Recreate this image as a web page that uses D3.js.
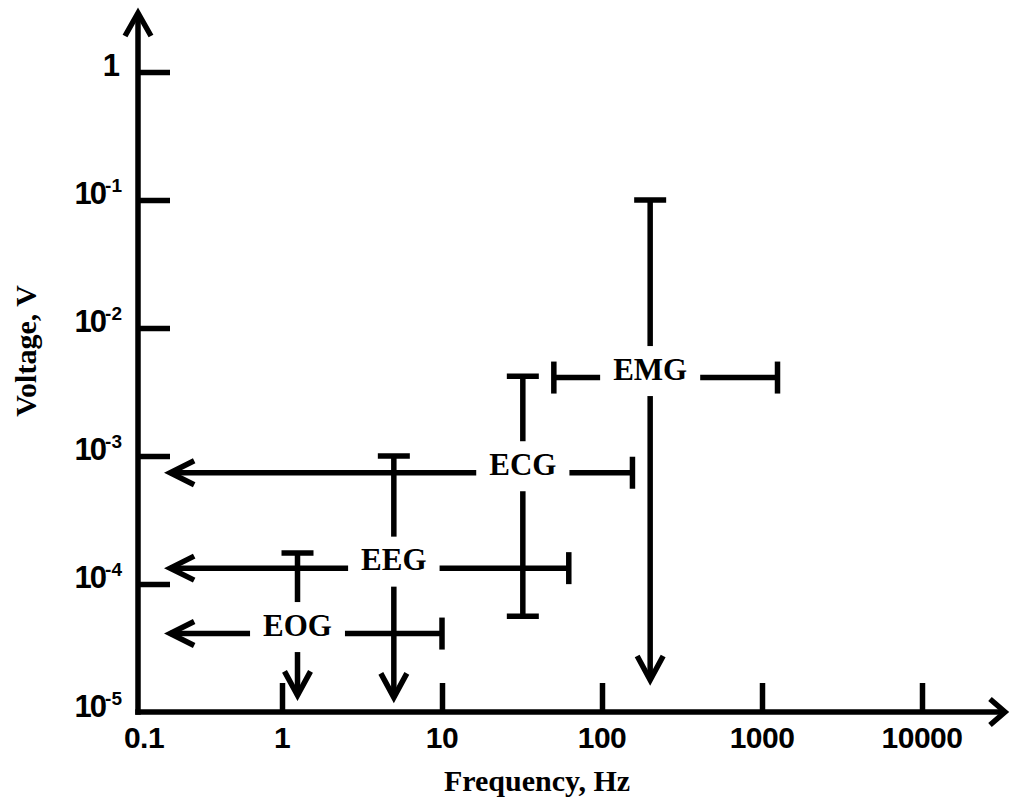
<!DOCTYPE html>
<html>
<head>
<meta charset="utf-8">
<script src="https://cdn.jsdelivr.net/npm/d3@7"></script>
<style>
  body { margin: 0; background: #fff; }
  svg { display: block; }
</style>
</head>
<body>
<div class="chart-div"></div>
<script>
// signal ranges (frequency in Hz, voltage in V)
var signals = ["EOG", "EEG", "ECG", "EMG"];
var freqMid = [1.25, 5, 32, 200];
var freqLow = [0.2, 0.2, 0.2, 50];
var freqHigh = [10, 62, 155, 1250];
var freqLowOpen = [true, true, true, false];
var voltMid = [4.1e-5, 1.33e-4, 7.4e-4, 4.1e-3];
var voltLow = [1.35e-5, 1.3e-5, 5.6e-5, 1.78e-5];
var voltHigh = [1.75e-4, 1e-3, 4.2e-3, 0.1];
var voltLowOpen = [true, true, false, true];

// tick values and labels
var xTicks = [0.1, 1, 10, 100, 1000, 10000];
var xTickLabels = ["0.1", "1", "10", "100", "1000", "10000"];
var yTicks = [1, 1e-1, 1e-2, 1e-3, 1e-4, 1e-5];
var yTickBase = ["1", "10", "10", "10", "10", "10"];
var yTickExp = ["", "-1", "-2", "-3", "-4", "-5"];

var width = 1011;
var height = 803;
var axisX = 138;
var axisY = 712;
var lineW = 5.5;
var serif = "'Liberation Serif', 'Times New Roman', serif";
var sans = "'Liberation Sans', Arial, sans-serif";

var x = d3.scaleLog().domain([0.1, 10000]).range([122, 922]);
var y = d3.scaleLog().domain([1e-5, 1]).range([axisY, 72]);

var svg = d3.select(".chart-div")
            .append("svg")
                .attr("width", width)
                .attr("height", height);

svg.append("rect")
    .attr("width", width)
    .attr("height", height)
    .attr("fill", "#fff");

function chevron(g, pts) {
    g.append("path")
        .attr("d", d3.line()(pts))
        .attr("fill", "none")
        .attr("stroke", "#000")
        .attr("stroke-width", lineW)
        .attr("stroke-linejoin", "miter");
}

function seg(g, x1, y1, x2, y2) {
    g.append("line")
        .attr("x1", x1).attr("y1", y1)
        .attr("x2", x2).attr("y2", y2)
        .attr("stroke", "#000")
        .attr("stroke-width", lineW);
}

// ---- axes ----
var axes = svg.append("g");

// tick marks through d3 axes, ticks pointing into the plot
axes.append("g")
    .attr("transform", "translate(" + axisX + ",0)")
    .call(d3.axisLeft(y).tickValues(yTicks.slice(0, 5)).tickSize(-32).tickSizeOuter(0).tickFormat(""))
    .call(function(g) {
        g.select(".domain").remove();
        g.selectAll(".tick line").attr("stroke", "#000").attr("stroke-width", lineW);
    });

axes.append("g")
    .attr("transform", "translate(0," + axisY + ")")
    .call(d3.axisBottom(x).tickValues(xTicks.slice(1)).tickSize(-29).tickSizeOuter(0).tickFormat(""))
    .call(function(g) {
        g.select(".domain").remove();
        g.selectAll(".tick line").attr("stroke", "#000").attr("stroke-width", lineW);
    });

// axis lines with arrow heads
seg(axes, axisX, axisY + lineW / 2, axisX, 14);
chevron(axes, [[axisX - 13, 36], [axisX, 13], [axisX + 13, 36]]);
seg(axes, axisX - lineW / 2, axisY, 1004, axisY);
chevron(axes, [[990, axisY - 13], [1005, axisY], [990, axisY + 13]]);

// y tick labels with superscript exponents
yTicks.forEach(function(v, i) {
    var t = axes.append("text")
        .attr("x", i === 0 ? 118 : 122)
        .attr("y", y(v) + (i === 5 ? 5 : 4))
        .attr("text-anchor", "end")
        .attr("font-family", sans)
        .attr("font-weight", "bold")
        .attr("font-size", "31px")
        .attr("letter-spacing", "-2px")
        .text(yTickBase[i]);
    if (yTickExp[i]) {
        t.append("tspan")
            .attr("dy", -12)
            .attr("font-size", "19px")
            .attr("letter-spacing", "0px")
            .text(yTickExp[i]);
    }
});

// x tick labels
xTicks.forEach(function(v, i) {
    axes.append("text")
        .attr("x", Math.max(x(v), axisX + 6))
        .attr("y", 748)
        .attr("text-anchor", "middle")
        .attr("font-family", sans)
        .attr("font-weight", "bold")
        .attr("font-size", "30px")
        .attr("letter-spacing", "-0.5px")
        .text(xTickLabels[i]);
});

// axis titles
axes.append("text")
    .attr("x", 537)
    .attr("y", 791)
    .attr("text-anchor", "middle")
    .attr("font-family", serif)
    .attr("font-weight", "bold")
    .attr("font-size", "30px")
    .text("Frequency, Hz");

axes.append("text")
    .attr("transform", "translate(36,351) rotate(-90)")
    .attr("text-anchor", "middle")
    .attr("font-family", serif)
    .attr("font-weight", "bold")
    .attr("font-size", "30px")
    .text("Voltage, V");

// ---- signal crosses ----
var marks = svg.append("g");
signals.forEach(function(name, i) {
    var g = marks.append("g").attr("class", "signal");
    var cx = x(freqMid[i]);
    var cy = y(voltMid[i]);
    var xl = x(freqLow[i]);
    var xr = x(freqHigh[i]);
    var yt = y(voltHigh[i]);
    var yb = y(voltLow[i]);

    // horizontal range (frequency)
    seg(g, xl, cy, xr, cy);
    if (freqLowOpen[i]) {
        chevron(g, [[xl + 24, cy - 12], [xl, cy], [xl + 24, cy + 12]]);
    } else {
        seg(g, xl, cy - 16, xl, cy + 16);
    }
    seg(g, xr, cy - 16, xr, cy + 16);

    // vertical range (voltage)
    seg(g, cx, yt, cx, yb);
    seg(g, cx - 16, yt, cx + 16, yt);
    if (voltLowOpen[i]) {
        chevron(g, [[cx - 13, yb - 24], [cx, yb], [cx + 13, yb - 24]]);
    } else {
        seg(g, cx - 16, yb, cx + 16, yb);
    }

    // label sits in a gap cut out of the cross
    var gap = g.append("rect").attr("fill", "#fff");
    var label = g.append("text")
        .attr("x", cx)
        .attr("y", cy + 2)
        .attr("text-anchor", "middle")
        .attr("font-family", serif)
        .attr("font-weight", "bold")
        .attr("font-size", "31px")
        .text(name);
    var bb = label.node().getBBox();
    var midY = bb.y + bb.height / 2 + 2;
    gap.attr("x", bb.x - 13)
        .attr("y", midY - 25)
        .attr("width", bb.width + 26)
        .attr("height", 50);
});
</script>
</body>
</html>
